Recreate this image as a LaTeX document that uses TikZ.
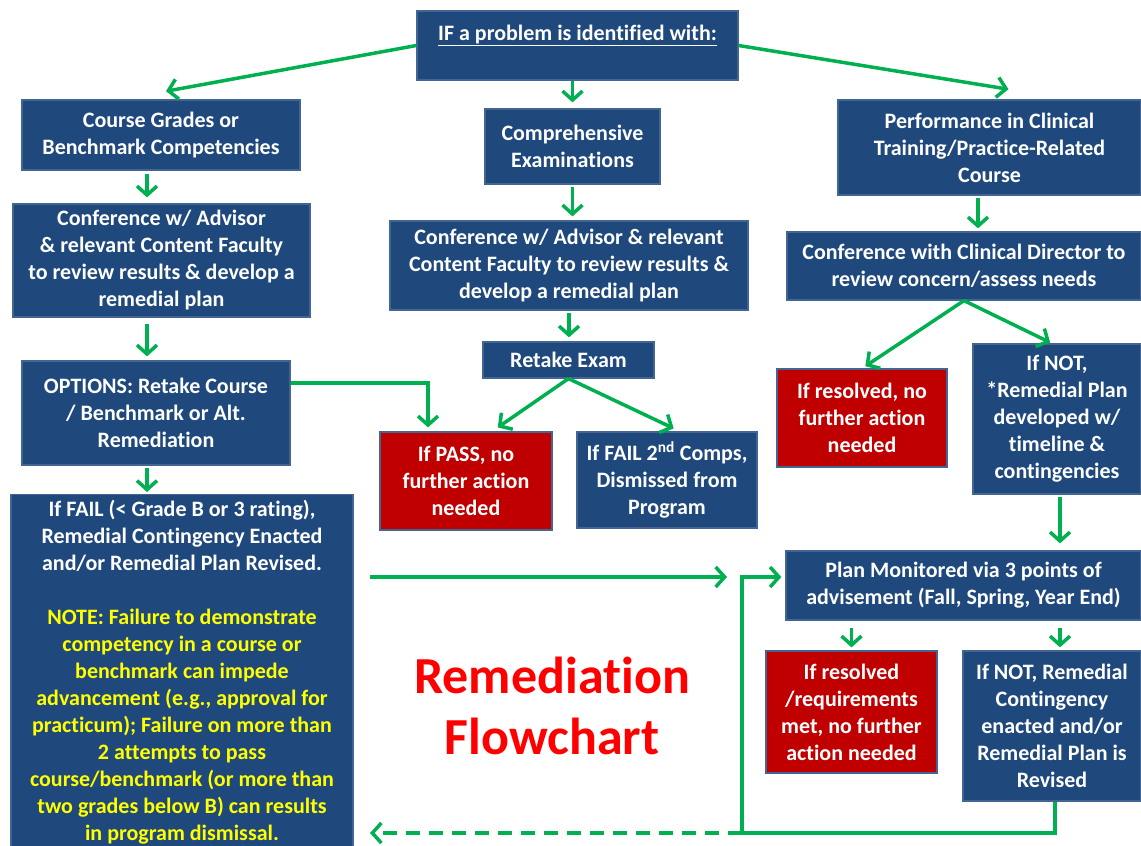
\documentclass[tikz,border=0pt]{standalone}
\usepackage{fontspec}
\setmainfont{Carlito}[Ligatures=NoCommon]
\usetikzlibrary{arrows.meta}

\definecolor{boxblue}{RGB}{31,73,125}
\definecolor{boxred}{RGB}{192,0,0}
\definecolor{boxedge}{RGB}{66,101,146}
\definecolor{arrgreen}{RGB}{0,176,80}
\definecolor{noteyellow}{RGB}{255,255,0}
\definecolor{titlered}{RGB}{255,0,0}

\tikzset{
  box/.style={draw=boxedge, line width=1.2pt, fill=boxblue, text=white,
    align=flush center, inner sep=2pt, font={\fontsize{22}{27}\selectfont\bfseries}},
  redbox/.style={box, fill=boxred},
  arr/.style={draw=arrgreen, line width=3.5pt,
    -{Straight Barb[length=9pt,width=20pt]}},
}

\begin{document}
\begin{tikzpicture}[x=1pt,y=-1pt]
  \useasboundingbox (0,0) rectangle (1141,846);

  % Top question
  \node[box, minimum width=321pt, minimum height=69pt, text height=15pt,
    text depth=26pt, inner ysep=14pt] (top) at (577.5,45.5)
    {\underline{IF a problem is identified with:}};

  % Left column: courses / benchmarks
  \node[box, minimum width=278pt, minimum height=70pt] (b1) at (161,135)
    {Course Grades or\\Benchmark Competencies};
  \node[box, minimum width=297pt, minimum height=113pt] (b2) at (161.5,260.5)
    {Conference w/ Advisor\\\& relevant Content Faculty\\to review results \& develop a\\remedial plan};
  \node[box, minimum width=268pt, minimum height=104pt] (b3) at (156,413)
    {OPTIONS: Retake Course\\/ Benchmark or Alt.\\Remediation};
  \node[box, anchor=north, minimum width=342pt, text width=336pt,
    inner ysep=6pt] (b4) at (182,494)
    {If FAIL (< Grade B or 3 rating),\\Remedial Contingency Enacted\\and/or Remedial Plan Revised.\\[27pt]
    \color{noteyellow}NOTE: Failure to demonstrate\\competency in a course or\\benchmark can impede\\advancement (e.g., approval for\\practicum); Failure on more than\\2 attempts to pass\\course/benchmark (or more than\\two grades below B) can results\\in program dismissal.};

  % Middle column: comprehensive examinations
  \node[box, minimum width=175pt, minimum height=75pt] (c1) at (572.5,146.5)
    {Comprehensive\\Examinations};
  \node[box, minimum width=358pt, minimum height=89pt] (c2) at (569,265.5)
    {Conference w/ Advisor \& relevant\\Content Faculty to review results \&\\develop a remedial plan};
  \node[box, minimum width=171pt, minimum height=36pt] (c3) at (568.5,360)
    {Retake Exam};
  \node[redbox, minimum width=172pt, minimum height=98pt] (c4) at (466,481)
    {If PASS, no\\further action\\needed};
  \node[box, minimum width=180pt, minimum height=96pt] (c5) at (667,480)
    {If FAIL 2\textsuperscript{nd} Comps,\\Dismissed from\\Program};

  % Right column: clinical training
  \node[box, minimum width=303pt, minimum height=95pt] (r1) at (989.5,147.5)
    {Performance in Clinical\\Training/Practice-Related\\Course};
  \node[box, minimum width=354pt, minimum height=68pt] (r2) at (964,266)
    {Conference with Clinical Director to\\review concern/assess needs};
  \node[redbox, minimum width=170pt, minimum height=98pt] (r3) at (862,418)
    {If resolved, no\\further action\\needed};
  \node[box, minimum width=168pt, minimum height=150pt] (r4) at (1057,419)
    {If NOT,\\*Remedial Plan\\developed w/\\timeline \&\\contingencies};
  \node[box, minimum width=355pt, minimum height=69pt] (r5) at (963.5,585.5)
    {Plan Monitored via 3 points of\\advisement (Fall, Spring, Year End)};
  \node[redbox, minimum width=171pt, minimum height=122pt] (r6) at (851.5,712)
    {If resolved\\/requirements\\met, no further\\action needed};
  \node[box, minimum width=178pt, minimum height=150pt] (r7) at (1052,726)
    {If NOT, Remedial\\Contingency\\enacted and/or\\Remedial Plan is\\Revised};

  % Title
  \node[text=titlered, align=center, font={\fontsize{52}{61}\selectfont\bfseries}]
    (title) at (552,706) {Remediation\\Flowchart};

  % Helper coordinates
  \coordinate (lx) at (147,0);
  \coordinate (rx) at (978,0);
  \coordinate (rx2) at (1060,0);
  \coordinate (fstart) at (370,577);
  \coordinate (fend) at (727,577);
  \coordinate (lp) at (742,833);
  \coordinate (dend) at (370,833);

  % Branches from the top
  \draw[arr, shorten >=1pt] (top.west) -- ([xshift=4pt,yshift=8pt]b1.north);
  \draw[arr, shorten >=6pt] (c1.north |- top.south) -- (c1.north);
  \draw[arr, shorten >=1pt] (top.east) -- ([xshift=20pt,yshift=10pt]r1.north);

  % Left column
  \draw[arr, shorten <=3pt, shorten >=6pt] (b1.south -| lx) -- (b2.north -| lx);
  \draw[arr, shorten <=6pt, shorten >=4pt] (b2.south -| lx) -- (b3.north -| lx);
  \draw[arr, shorten <=2pt, shorten >=2pt] (b3.south -| lx) -- (b4.north -| lx);
  \draw[arr, shorten >=4pt] ([yshift=30pt]b3.east) -| ([xshift=-38pt]c4.north);
  \draw[arr] (fstart) -- (fend);

  % Middle column
  \draw[arr, shorten <=2pt, shorten >=4pt] (c1.south) -- (c1.south |- c2.north);
  \draw[arr, shorten <=2pt, shorten >=4pt] (c2.south) -- (c2.south |- c3.north);
  \draw[arr, shorten >=7pt] (c3.south) -- ([xshift=26pt]c4.north);
  \draw[arr, shorten >=7pt] (c3.south) -- ([xshift=13pt]c5.north);

  % Right column
  \draw[arr, shorten <=2pt, shorten >=3pt] (r1.south -| rx) -- (r2.north -| rx);
  \draw[arr, shorten >=4pt] (r2.south) -- (r3.north);
  \draw[arr, shorten >=2pt] (r2.south) -- ([xshift=-5pt]r4.north);
  \draw[arr, shorten <=2pt, shorten >=7pt] (r4.south -| rx2) -- (r5.north -| rx2);
  \draw[arr, shorten <=7pt, shorten >=3pt] (r6.north |- r5.south) -- (r6.north);
  \draw[arr, shorten <=7pt, shorten >=3pt] (r5.south -| rx2) -- (r7.north -| rx2);

  % Loop back from the contingency box
  \draw[arr, shorten >=4pt] ([xshift=3pt]r7.south) |- (lp) |- ([yshift=8.5pt]r5.west);
  \draw[arr, dash pattern=on 14pt off 9pt] (lp) -- (dend);
\end{tikzpicture}
\end{document}
